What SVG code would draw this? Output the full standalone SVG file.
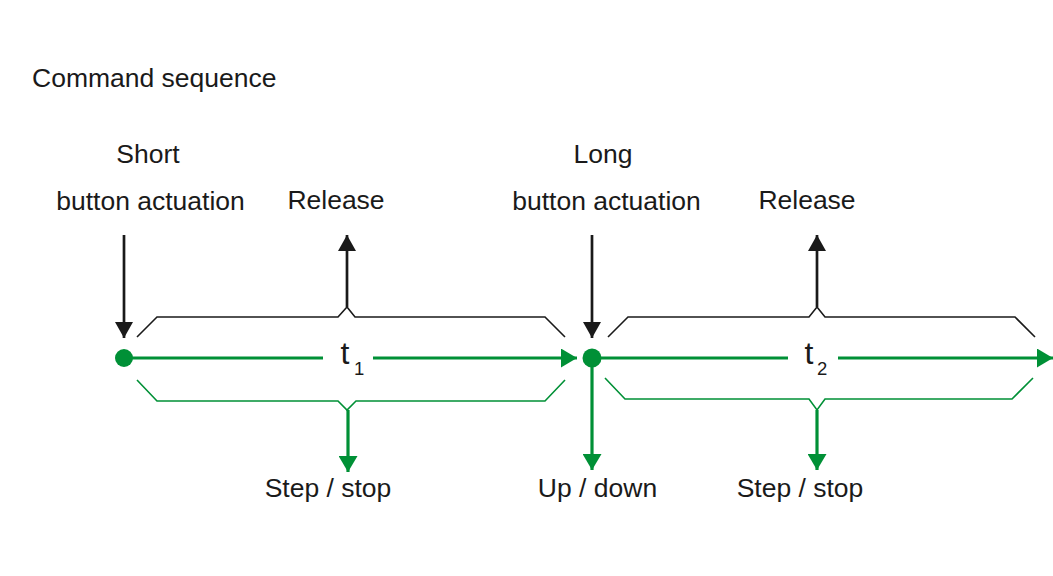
<svg xmlns="http://www.w3.org/2000/svg" width="1053" height="576" viewBox="0 0 1053 576">
<style>
text{font-family:"Liberation Sans",Arial,sans-serif;fill:#1a1a1a;font-size:26.5px}
.c{text-anchor:middle}
.blk{stroke:#1a1a1a;stroke-width:2.7;fill:none}
.grn{stroke:#009036;stroke-width:3.2;fill:none}
.brb{stroke:#1a1a1a;stroke-width:1.6;fill:none}
.brg{stroke:#009036;stroke-width:1.6;fill:none}
</style>
<defs>
<marker id="ab" markerUnits="userSpaceOnUse" markerWidth="16" markerHeight="18" refX="16" refY="9" orient="auto" viewBox="0 0 16 18"><path d="M0,0 L16,9 L0,18 z" fill="#1a1a1a"/></marker>
<marker id="ag" markerUnits="userSpaceOnUse" markerWidth="16" markerHeight="19" refX="16" refY="9.5" orient="auto" viewBox="0 0 16 19"><path d="M0,0 L16,9.5 L0,19 z" fill="#009036"/></marker>
</defs>
<g id="title"><text x="32" y="87">Command sequence</text></g>
<g id="short"><text class="c" x="148" y="163">Short</text><text class="c" x="150.5" y="210">button actuation</text></g>
<g id="release1"><text class="c" x="336" y="209">Release</text></g>
<g id="long"><text class="c" x="603" y="163">Long</text><text class="c" x="606.5" y="210">button actuation</text></g>
<g id="release2"><text class="c" x="807" y="209">Release</text></g>
<g id="t1"><text x="340.5" y="364" style="font-size:32px">t</text><text x="354" y="375" style="font-size:18.5px">1</text></g>
<g id="t2"><text x="804.5" y="364" style="font-size:32px">t</text><text x="817" y="375" style="font-size:18.5px">2</text></g>
<g id="step1"><text class="c" x="328" y="497">Step / stop</text></g>
<g id="updown"><text class="c" x="597.5" y="497">Up / down</text></g>
<g id="step2"><text class="c" x="800" y="497">Step / stop</text></g>
<g id="dot1"><circle cx="124" cy="358" r="9" fill="#009036"/></g>
<g id="dot2"><circle cx="592" cy="358" r="9.5" fill="#009036"/></g>
<g id="connectors">
<line class="blk" x1="124" y1="235" x2="124" y2="338" marker-end="url(#ab)"/>
<line class="blk" x1="592" y1="235" x2="592" y2="338" marker-end="url(#ab)"/>
<line class="blk" x1="347" y1="307" x2="347" y2="235" marker-end="url(#ab)"/>
<line class="blk" x1="817" y1="307" x2="817" y2="235" marker-end="url(#ab)"/>
<path class="brb" d="M137,337 L157,317 L338,317 L347,307 L355,317 L545,317 L565,337"/>
<path class="brb" d="M608,337 L628,317 L809,317 L817,307 L825,317 L1015,317 L1035,337"/>
<line class="grn" x1="124" y1="358" x2="323" y2="358"/>
<line class="grn" x1="373" y1="358" x2="577" y2="358" marker-end="url(#ag)"/>
<line class="grn" x1="592" y1="358" x2="788" y2="358"/>
<line class="grn" x1="838" y1="358" x2="1053" y2="358" marker-end="url(#ag)"/>
<path class="brg" d="M137,380 L157,401 L338,401 L347,410 L356,401 L545,401 L565,380"/>
<path class="brg" d="M605,378 L625,399 L809,399 L817,410 L825,399 L1012,399 L1033,378"/>
<line class="grn" x1="348" y1="410" x2="348" y2="472" marker-end="url(#ag)"/>
<line class="grn" x1="817" y1="410" x2="817" y2="470" marker-end="url(#ag)"/>
<line class="grn" x1="592" y1="358" x2="592" y2="470" marker-end="url(#ag)"/>
</g>
</svg>
